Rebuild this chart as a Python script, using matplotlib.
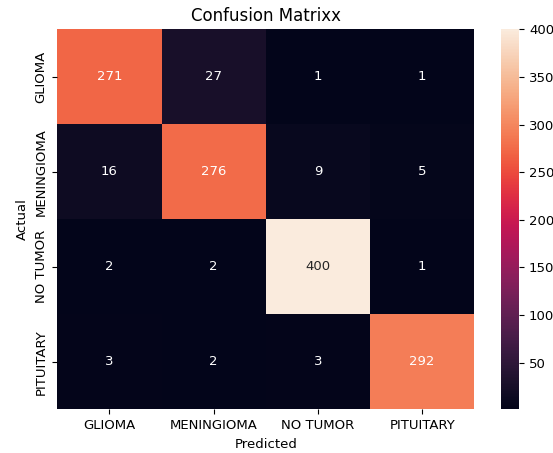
import numpy as np
import matplotlib
matplotlib.use('Agg')
import matplotlib.pyplot as plt
import seaborn as sns

labels = ['GLIOMA', 'MENINGIOMA', 'NO TUMOR', 'PITUITARY']
row_glioma = [271, 27, 1, 1]
row_meningioma = [16, 276, 9, 5]
row_no_tumor = [2, 2, 400, 1]
row_pituitary = [3, 2, 3, 292]

cm = np.array([row_glioma, row_meningioma, row_no_tumor, row_pituitary])

fig = plt.figure(figsize=(5.53, 4.53), dpi=100)
ax = fig.add_axes([57.3 / 553, 43.7 / 453, 417 / 553, 380 / 453])
cax = fig.add_axes([501.3 / 553, 43.7 / 453, 18 / 553, 380 / 453])

sns.heatmap(cm, annot=True, fmt='d', xticklabels=labels, yticklabels=labels,
            ax=ax, cbar_ax=cax, annot_kws={'size': 9.5})
ax.set_title('Confusion Matrixx', fontsize=12)
ax.set_xlabel('Predicted', fontsize=9.5)
ax.set_ylabel('Actual', fontsize=9.5)
ax.tick_params(labelsize=9.5)
cax.tick_params(labelsize=9.5)

fig.savefig('out.png', dpi=100)
